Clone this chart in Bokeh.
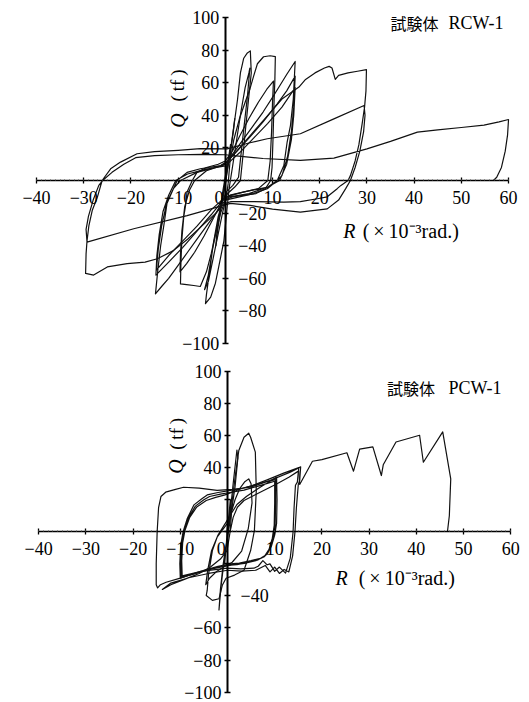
import math
from bokeh.plotting import figure
from bokeh.models import Range1d, LinearAxis, FixedTicker, Label
from bokeh.layouts import column
from bokeh.embed import file_html
from bokeh.resources import INLINE

# ---------------- tick values / labels ----------------
x_ticks = [-40, -30, -20, -10, 0, 10, 20, 30, 40, 50, 60]
x_tick_text = ["−40", "−30", "−20", "−10", "0\u2002\u2009", "10", "20", "30", "40", "50", "60"]
y_ticks = [-100, -80, -60, -40, -20, 0, 20, 40, 60, 80, 100]

top_left_labels = {100: "100", 80: "80", 60: "60", 40: "40", 20: "20", -100: "−100"}
top_right_labels = {-20: "−20", -40: "−40", -60: "−60", -80: "−80"}
bot_left_labels = {100: "100", 80: "80", 60: "60", 40: "40", -60: "−60", -80: "−80", -100: "−100"}
bot_right_labels = {-40: "−40"}

# ---------------- RCW-1 (top) : R (x10^-3 rad), Q (tf) ----------------
rcw_c1_r = [0, 0.4, 0.8, 1.1, 0.8, 0.3, -0.3, -0.7, -1.1, -0.8, -0.3, 0.3, 0.9, 1.5, 2.0, 1.7, 1.0, 0.2,
            -0.5, -1.2, -1.8, -2.0, -1.6, -0.9, -0.2]
rcw_c1_q = [0, 8, 15, 22, 16, 9, -5, -12, -20, -15, -8, 4, 14, 26, 38, 30, 16, 6,
            -6, -20, -32, -40, -30, -16, -6]

rcw_c5_r = [-0.2, 0.4, 1.1, 1.8, 2.6, 3.2, 3.9, 4.6, 5.3, 5.5, 5.0, 4.4, 3.8, 3.2, 2.0, 0.5, -0.5, -1.5,
            -2.5, -3.3, -4.0, -4.2, -3.1, -2.1, -1.4, -0.3, 0.4, 0.8, 1.5, 2.4, 3.3, 4.2, 5.0, 5.2, 4.7,
            4.0, 3.4, 2.8, 1.6, 0.2, -0.8, -1.8, -2.8, -3.6, -4.4, -3.6, -2.6, -1.6, -0.6, 0.2, 0.6]
rcw_c5_q = [-6, 6, 19, 33, 50, 66, 75, 78, 79.5, 66, 52, 35, 17, 0, -4, -8, -12, -22,
            -38, -55, -70, -75.5, -71.5, -63, -53, -37, -16, -5, 8, 25, 42, 57, 66, 69, 52,
            34, 18, 2, -3, -7, -14, -28, -44, -58, -67, -62, -48, -34, -20, -10, -2]

rcw_c10_r = [0.6, 1.0, 1.8, 3.0, 4.2, 5.2, 6.0, 6.8, 8.1, 9.5, 10.6, 10.5, 10.3, 10.1, 9.9, 9.6, 8.5, 6.5,
             4.0, 1.5, 0.0, -1.0, -2.0, -3.0, -4.0, -5.3, -6.7, -8.2, -9.5, -9.4, -9.2, -8.8, -8.4, -8.1,
             -7.0, -6.0, -4.0, -1.5, 0.0, 1.5, 3.0, 5.0, 7.0, 8.8, 10.2, 10.0, 9.8, 9.5, 9.0, 7.0, 4.0,
             1.0, -0.5, -2.5, -4.5, -6.5, -8.2, -9.6, -9.5, -9.2, -8.6, -7.6, -6.5, -4.0, -1.0, 0.2]
rcw_c10_q = [-2, 12, 25, 38, 48, 56, 64, 71.6, 75.9, 76.5, 76, 62, 46, 25, 8, 0, -5, -8,
             -9, -10, -12, -20, -32, -45, -56, -65, -64.4, -63.8, -63.4, -50, -36, -22, -15, -7,
             0, 5, 8, 10, 12, 18, 27, 38, 48, 56, 61, 48, 30, 12, 0, -5, -7,
             -9, -12, -23, -34, -44, -51, -56, -45, -31, -16, -6, 0, 6, 9, 11]

rcw_c15_r = [0.2, 2, 4, 6, 8, 10, 11.5, 13, 14.8, 14.4, 13.8, 13.1, 12.4, 11.0, 8.9, 6.0, 3.0, 0.0,
             -2, -4, -6, -8, -10, -12, -13.5, -14.8, -14.3, -13.7, -13.0, -12.3, -11.0, -10.2, -8.1,
             -5.3, -1.0, 0.5, 2.5, 5, 8, 11, 13, 14.8, 14.5, 14.0, 13.2, 12.0, 11.0, 9.0, 5.0, 1.0,
             -0.5, -3, -6, -9, -12, -14.7, -14.5, -14.0, -13.2, -12.0, -10.5, -8.0, -4.0, 0.0, 3, 6,
             9, 12, 14.8, 14.5, 14.0, 13.0, 11.5, 9.0, 4.0, 0.0, -3, -6, -9, -12, -14.6, -14.2,
             -13.5, -12.5, -11.0, -9.5, -6.0, -2.0, 0.0]
rcw_c15_q = [11, 18, 26, 34, 42, 51, 58, 65, 73, 50, 33.7, 23.6, 9.2, 0, -5, -8, -10, -12,
             -20, -28, -36, -44, -52, -60, -65, -69.5, -55, -40, -27, -13, -5, 0, 5,
             7.2, 9.2, 12, 18, 26, 36, 47, 55, 64, 45, 30, 15, 3, 0, -4, -8, -10,
             -12, -21, -31, -41, -50, -58, -46, -33, -19, -9, 0, 4, 7, 9, 17, 26,
             35, 45, 57, 40, 25, 10, 0, -4, -7, -10, -18, -28, -37, -46, -55, -42,
             -28, -15, -5, 0, 5, 8, 10]

rcw_c30_r = [0.0, 3, 6, 9, 12, 15.6, 17, 19, 21, 22, 22.6, 23.3, 24, 26, 28, 29.9, 29.8, 29.5, 29.0,
             28.3, 27.5, 26.5, 26.0, 24.5, 23.7, 21.6, 19.5, 15.9, 12.4, 5.3, 1.1, 0.0, -2, -5, -8,
             -11, -14.4, -17, -20.8, -25, -27.9, -29.6, -29.5, -29.3, -28.9, -28.2, -27.1, -26.1, -24.3,
             -22.2, -18.7, -15, -10, -5.3, 0.4, 5, 8.9, 15.9, 23, 29.4, 29.6, 29.3, 28.5, 27.5, 26.5,
             25.5, 24, 21.6, 15.9, 10, 5.3, 1.1, -8.1, -19.4, -29.3, -29.5, -29.0, -28.0, -26.8,
             -26.0, -24, -21.5, -19, -15, -10, -5, 0, 1.8, 8, 15.9, 23, 30, 35, 40.7, 45, 50,
             54.8, 58, 60, 59.8, 59.3, 58.5, 57.5, 56.8]
rcw_c30_q = [10, 20, 30, 40, 50, 57.3, 62, 66, 69, 70, 69, 62, 64.5, 66, 67, 68, 55, 45, 35,
             22, 12, 3, 0, -3, -5, -10, -11.2, -13, -13.3, -12.9, -13, -14, -20, -28, -36,
             -43, -48, -50, -51, -53, -58, -57, -45, -37, -27.6, -18.4, -10.2, 0, 7.2,
             11.3, 16.4, 17.7, 18.5, 19.5, 19.4, 23, 25.6, 28.7, 37.8, 46, 40, 30, 18, 8, 0,
             -5, -12, -17.4, -19.4, -17.5, -15.3, -14, -21.5, -29.6, -37.8, -30, -22, -12, -3,
             0, 5, 10, 14, 15.3, 15.8, 16, 15.8, 15.3, 13.5, 12.3, 13.7, 19.4, 24, 29.7, 31, 32.5,
             34, 36, 37.4, 28, 18, 8, 2, 0]

# ---------------- PCW-1 (bottom) ----------------
pcw_c1_r = [0, 0.3, 0.6, 0.4, 0.0, -0.3, -0.6, -0.4, 0.0, 0.5, 1.2, 2.0, 2.2, 1.6, 0.8, 0.0, -0.8,
            -1.4, -1.8, -1.5, -0.9, -0.3, 0.2]
pcw_c1_q = [0, 10, 20, 13, 3, -10, -20, -13, -3, 10, 30, 51, 46, 28, 12, -4, -20,
            -35, -48.7, -36, -20, -8, 0]

pcw_c5_r = [0.2, 0.6, 1.0, 1.7, 2.4, 3.5, 4.5, 4.9, 5.9, 6.1, 5.7, 4.9, 3.5, 1.5, -0.3, -1.1, -1.8,
            -3.2, -4.5, -4.3, -4.0, -3.2, -2.2, -0.1, 0.8, 1.6, 2.6, 3.6, 4.5, 5.0, 5.2, 4.4, 3.0,
            1.0, -0.8, -2.4, -3.8, -4.6, -4.2, -3.4, -2.0, -0.3, 0.5]
pcw_c5_q = [0, 0.8, 19.5, 36, 50.7, 59, 61.5, 59, 49.7, 25.8, 0.8, -11.7, -24, -27, -29, -33.4, -41.8,
            -42.8, -39.7, -36.6, -26.2, -11.7, -3.4, 5, 12, 20, 27, 31, 33, 30, 18, 2, -12,
            -19, -22, -25, -29, -33, -24, -12, -2, 6, 10]

pcw_c10_r = [0.5, 2, 4, 7, 10.4, 10.5, 10.4, 10.0, 9.3, 8.4, 7.0, 5.0, 2.5, 0.6, -2, -5, -7.5, -10.0,
             -10.1, -9.9, -9.4, -8.5, -7.1, -5.5, -4.3, -2, 0, 3, 6, 8.5, 10.2, 10.2, 10.1, 9.7, 9.0,
             8.0, 6.5, 4.5, 2.0, 0.0, -2.5, -5.5, -8, -9.8, -9.9, -9.7, -9.2, -8.2, -6.8, -5.0, -3.8,
             -1.5, 0.5, 3.5, 6.5, 8.8, 10.0, 10.0, 9.9, 9.5, 8.8, 7.8, 6.0, 4.0, 1.5, -0.5, -3, -6,
             -9.6, -9.7, -9.5, -9.0, -8.0, -6.5, -4.5, -2.5, -0.5]
pcw_c10_q = [10, 17, 22, 28, 34, 20, 5, -2, -9, -14, -16.5, -18, -19.5, -20, -21.5, -24, -26.5, -29,
             -20, -8, 0, 8.5, 16.8, 20.5, 23, 24.5, 25.5, 27, 29.5, 31.5, 32.5, 19, 4, -3, -10,
             -15, -17.5, -19, -20.5, -21, -22.5, -25, -27, -28, -18, -7, 1, 9, 16, 20, 22,
             23.5, 24.5, 26, 28.5, 30.5, 31.5, 18, 4, -4, -11, -15.5, -18, -19.5, -20.5, -21.5, -23, -25,
             -27.5, -18, -7, 1, 9, 15.5, 19.5, 21.5, 23]

pcw_c15_r = [-0.5, 3, 5, 8.4, 11.9, 15.1, 14.8, 14.4, 14.1, 13.9, 13.3, 12.3, 11, 10, 9, 8.4, 7.5, 6.5,
             5.6, 2.8, 0, -5.7, -10, -13, -14.2, -14.8, -15.1, -15.1, -14.9, -14.6, -14.1, -13.1, -11,
             -9.3, -6, -2.2, 1, 4.9, 9, 13.3, 15.5, 15.3, 15, 14.6, 14.3, 13.8, 13, 12, 11, 10, 9, 8,
             6, 3, 0, -4, -8, -12, -13.8, -12, -9, -6, -3.6, -1.5, -0.1, 0.6, 1.2, 2.1, 3.5, 6.3,
             10.5, 13, 15.1]
pcw_c15_q = [23, 27, 28.5, 32.4, 36.6, 40, 31, 29, 14.7, 0, -16.4, -25.8, -22, -24.7, -20, -20.6, -18, -21.5,
             -22.7, -23.1, -22.7, -24.7, -28.9, -31.5, -33, -35, -33, -20, 0, 15, 22, 24.7, 26.5,
             27.8, 27.2, 25.8, 26.5, 27.8, 32, 37.2, 40.5, 32, 29.5, 15, 0, -15, -25, -23.5, -26, -22, -25, -21,
             -24, -24.5, -24, -26, -28.5, -32, -36, -33, -29.5, -26, -22, -17, -11.7, 0.8, 9, 15.3, 19.5, 23.7,
             30, 34, 38]

pcw_end_r = [15.1, 15.3, 18.0, 20.0, 25.3, 26.7, 28.0, 30.8, 32.6, 33.0, 35.7, 40.7, 41.5, 45.6, 47.3,
             47.0, 46.6]
pcw_end_q = [38, 29.5, 44, 45, 49.3, 37.8, 51.6, 53, 35.1, 41.8, 56, 60.2, 43.4, 62.3, 33,
             10, 0]

SERIF = "Liberation Serif"
CJK = "Noto Sans CJK JP"
INK = "#000000"


def make_panel(height, xr, yr, left_labels, right_labels, curves, labels):
    p = figure(width=521, height=height, x_range=Range1d(*xr), y_range=Range1d(*yr),
               output_backend="svg", toolbar_location=None,
               x_axis_location=None, y_axis_location=None, min_border=0)
    p.outline_line_color = None
    p.background_fill_color = "white"
    p.border_fill_color = "white"
    p.xgrid.visible = False
    p.ygrid.visible = False

    # x axis through origin
    xa = LinearAxis(fixed_location=0, bounds=(-40, 60),
                    ticker=FixedTicker(ticks=x_ticks, minor_ticks=list(range(-40, 61))))
    xa.major_label_overrides = dict(zip(x_ticks, x_tick_text))
    xa.axis_line_width = 1.7
    xa.axis_line_color = INK
    xa.major_tick_in = 3
    xa.major_tick_out = 3
    xa.major_tick_line_color = INK
    xa.major_tick_line_width = 1.3
    xa.minor_tick_in = 1
    xa.minor_tick_out = 0
    xa.minor_tick_line_color = "#555555"
    xa.major_label_standoff = 4
    xa.major_label_text_font = SERIF
    xa.major_label_text_font_size = "18px"
    xa.major_label_text_color = INK
    p.add_layout(xa, "below")

    # y axis through origin, labels on the left
    ya = LinearAxis(fixed_location=0, bounds=(-100, 100),
                    ticker=FixedTicker(ticks=y_ticks, minor_ticks=[]))
    ya.major_label_overrides = {t: left_labels.get(t, "") for t in y_ticks}
    ya.axis_line_width = 2
    ya.axis_line_color = INK
    ya.major_tick_in = 3
    ya.major_tick_out = 3
    ya.major_tick_line_color = INK
    ya.major_tick_line_width = 1.3
    ya.major_label_standoff = 3
    ya.major_label_text_font = SERIF
    ya.major_label_text_font_size = "18px"
    ya.major_label_text_color = INK
    p.add_layout(ya, "left")

    # y labels placed on the right side of the axis (negative values)
    rticks = sorted(right_labels.keys())
    yb = LinearAxis(fixed_location=0, ticker=FixedTicker(ticks=rticks, minor_ticks=[]))
    yb.major_label_overrides = right_labels
    yb.axis_line_color = None
    yb.major_tick_line_color = None
    yb.major_tick_in = 0
    yb.major_tick_out = 0
    yb.major_label_standoff = 13
    yb.major_label_text_font = SERIF
    yb.major_label_text_font_size = "18px"
    yb.major_label_text_color = INK
    p.add_layout(yb, "right")

    for r, q in curves:
        p.line(r, q, line_color="#111111", line_width=1.2, line_join="round")

    for lab in labels:
        p.add_layout(lab)
    return p


def axis_labels(q_x, q_y, tf_y, r_x, paren_x, r_y, kanji_x, name_x, title_y, name):
    return [
        Label(x=q_x, y=q_y, text="Q", angle=math.pi / 2, text_align="center", text_baseline="middle",
              text_font=SERIF, text_font_size="20px", text_font_style="italic", text_color=INK),
        Label(x=q_x, y=tf_y, text="(\u2009tf\u2009)", angle=math.pi / 2, text_align="center",
              text_baseline="middle", text_font=SERIF, text_font_size="19px", text_color=INK),
        Label(x=r_x, y=r_y, text="R", text_align="left", text_baseline="middle",
              text_font=SERIF, text_font_size="20px", text_font_style="italic", text_color=INK),
        Label(x=paren_x, y=r_y, text="(\u2009×\u200910⁻³rad.)", text_align="left", text_baseline="middle",
              text_font=SERIF, text_font_size="20px", text_color=INK),
        Label(x=kanji_x, y=title_y, text="試験体", text_align="left", text_baseline="middle",
              text_font=CJK, text_font_size="16px", text_color=INK),
        Label(x=name_x, y=title_y, text=name, text_align="left", text_baseline="middle",
              text_font=SERIF, text_font_size="18px", text_color=INK),
    ]


top = make_panel(354, (-47.63, 62.75), (-106.7, 110.4), top_left_labels, top_right_labels,
                 [(rcw_c1_r, rcw_c1_q), (rcw_c5_r, rcw_c5_q), (rcw_c10_r, rcw_c10_q),
                  (rcw_c15_r, rcw_c15_q), (rcw_c30_r, rcw_c30_q)],
                 axis_labels(-10.1, 36.8, 58.3, 25.0, 29.1, -30.7, 35.0, 47.3, 96.5, "RCW-1"))

bottom = make_panel(348, (-48.09, 62.29), (-106.5, 110.6), bot_left_labels, bot_right_labels,
                    [(pcw_c1_r, pcw_c1_q), (pcw_c5_r, pcw_c5_q), (pcw_c10_r, pcw_c10_q),
                     (pcw_c15_r, pcw_c15_q), (pcw_end_r, pcw_end_q)],
                    axis_labels(-10.9, 40.7, 61.1, 22.9, 27.8, -28.9, 33.8, 46.8, 89.6, "PCW-1"))

layout = column(top, bottom)
open("out.html", "w").write(file_html(layout, INLINE))
